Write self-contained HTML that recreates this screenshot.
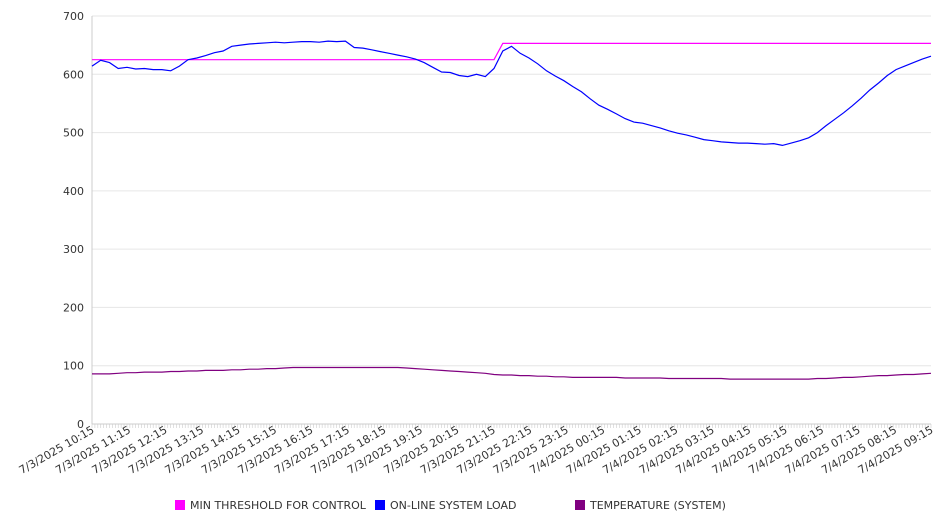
<!DOCTYPE html>
<html><head><meta charset="utf-8"><style>
body{margin:0;background:#fff;font-family:"DejaVu Sans","Liberation Sans",sans-serif;}
svg text{font-family:"DejaVu Sans","Liberation Sans",sans-serif;font-size:11px;fill:#333;}
</style></head><body>
<svg id="chart" width="946" height="526" xmlns="http://www.w3.org/2000/svg">
<g id="grid"></g><g id="axes"></g><g id="series"></g><g id="legend"></g>
</svg>
<script>
const xLabels=["7/3/2025 10:15","7/3/2025 11:15","7/3/2025 12:15","7/3/2025 13:15","7/3/2025 14:15","7/3/2025 15:15","7/3/2025 16:15","7/3/2025 17:15","7/3/2025 18:15","7/3/2025 19:15","7/3/2025 20:15","7/3/2025 21:15","7/3/2025 22:15","7/3/2025 23:15","7/4/2025 00:15","7/4/2025 01:15","7/4/2025 02:15","7/4/2025 03:15","7/4/2025 04:15","7/4/2025 05:15","7/4/2025 06:15","7/4/2025 07:15","7/4/2025 08:15","7/4/2025 09:15"];
const yTicks=[0,100,200,300,400,500,600,700];
const loadValues=[614,624,620,610,612,609,610,608,608,606,614,625,628,632,637,640,648,650,652,653,654,655,654,655,656,656,655,657,656,657,646,645,642,639,636,633,630,626,620,612,604,603,598,596,600,596,610,640,648,636,628,618,606,597,589,579,570,558,547,540,532,524,518,516,512,508,503,499,496,492,488,486,484,483,482,482,481,480,481,478,482,486,491,500,512,523,534,546,559,573,585,598,608,614,620,626,631];
const thresholdValues=[625,625,625,625,625,625,625,625,625,625,625,625,625,625,625,625,625,625,625,625,625,625,625,625,625,625,625,625,625,625,625,625,625,625,625,625,625,625,625,625,625,625,625,625,625,625,625,653,653,653,653,653,653,653,653,653,653,653,653,653,653,653,653,653,653,653,653,653,653,653,653,653,653,653,653,653,653,653,653,653,653,653,653,653,653,653,653,653,653,653,653,653,653,653,653,653,653];
const tempValues=[86,86,86,87,88,88,89,89,89,90,90,91,91,92,92,92,93,93,94,94,95,95,96,97,97,97,97,97,97,97,97,97,97,97,97,97,96,95,94,93,92,91,90,89,88,87,85,84,84,83,83,82,82,81,81,80,80,80,80,80,80,79,79,79,79,79,78,78,78,78,78,78,78,77,77,77,77,77,77,77,77,77,77,78,78,79,80,80,81,82,83,83,84,85,85,86,87];
const NS="http://www.w3.org/2000/svg";
const X0=92,X1=931,Y0=424,Y1=16;
function yS(v){return Y0-(v/700)*(Y0-Y1);}
function xS(i,n){return X0+i*(X1-X0)/(n-1);}
function xL(i,n){return X0+i*(X1-X0)/(n-1);}
function mk(tag,attrs,parent){const e=document.createElementNS(NS,tag);for(const k in attrs)e.setAttribute(k,attrs[k]);parent.appendChild(e);return e;}
const grid=document.getElementById('grid'),axes=document.getElementById('axes'),series=document.getElementById('series'),legend=document.getElementById('legend');
yTicks.forEach(v=>{
  const l=mk('line',{x1:X0,x2:X1,y1:yS(v),y2:yS(v),stroke:v===0?'#ccc':'#e6e6e6','stroke-width':1},grid);
  
  
  const t=mk('text',{x:84,y:yS(v)+4,'text-anchor':'end'},axes);
  t.textContent=v;
  
  
});
const ya=mk('line',{x1:X0,x2:X0,y1:Y1,y2:Y0,stroke:'#ccc'},axes);


for(let m=0;m<=288;m++){
  const x=X0+m*(X1-X0)/288;
  mk('line',{x1:x,x2:x,y1:Y0,y2:Y0+4,stroke:'#ccc','stroke-width':0.6},axes);
}
xLabels.forEach((s,i)=>{
  const x=xL(i,xLabels.length)+3,y=432;
  const t=mk('text',{x:x,y:y,'text-anchor':'end',transform:`rotate(-30 ${x} ${y})`},axes);
  t.textContent=s;
  
  
});
function line(vals,color,name){
  const d=vals.map((v,i)=>(i?'L':'M')+xS(i,vals.length).toFixed(1)+','+yS(v).toFixed(1)).join('');
  const p=mk('path',{d:d,fill:'none',stroke:color,'stroke-width':1.2},series);
  
  
}
line(thresholdValues,'#ff00ff','min-threshold-line');
line(tempValues,'#800080','temperature-line');
line(loadValues,'#0000ff','system-load-line');
const leg=[["MIN THRESHOLD FOR CONTROL","#ff00ff",175],["ON-LINE SYSTEM LOAD","#0000ff",375],["TEMPERATURE (SYSTEM)","#800080",575]];
leg.forEach(([n,c,x])=>{
  const g=mk('g',{},legend);
  
  
  mk('rect',{x:x,y:500,width:10,height:10,fill:c},g);
  const t=mk('text',{x:x+15,y:509},g);
  t.textContent=n;
});
</script>
</body></html>
